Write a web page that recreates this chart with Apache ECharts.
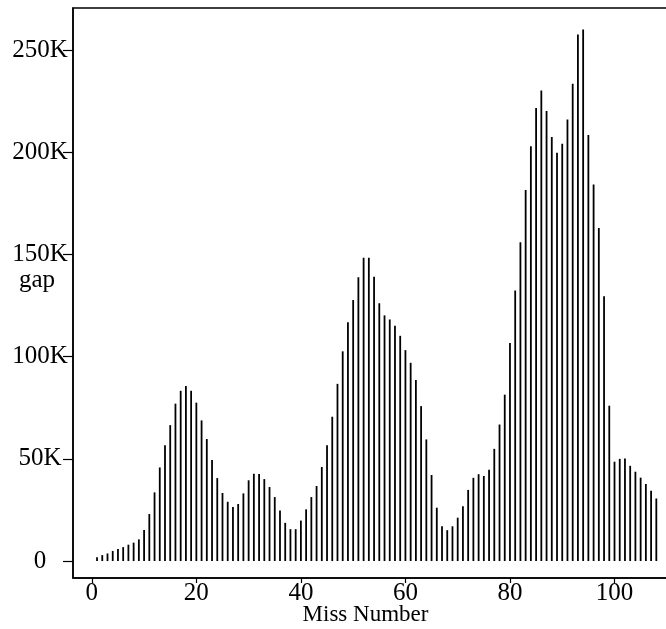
<!DOCTYPE html>
<html lang="en">
<head>
    <meta charset="UTF-8">
    <title>Miss Number gap</title>
    <style>
        html, body {
            margin: 0;
            padding: 0;
            background-color: #fff;
        }
        #chart-container {
            width: 666px;
            height: 629px;
        }
    </style>
    <script src="https://cdn.jsdelivr.net/npm/echarts@6.0.0/dist/echarts.min.js"></script>
</head>
<body>
    <div id="chart-container"></div>

    <script>
        // miss numbers 1..108
        const missNumbers = [];
        for (let i = 1; i <= 108; i++) missNumbers.push(i);

        // gap values, in thousands
        const gapK = [
            1.8, 2.9, 3.7, 4.9, 5.9, 6.8, 8.0, 9.0, 10.6, 15.2,
            23.0, 33.6, 45.8, 56.7, 66.5, 77.0, 83.3, 85.6, 83.3, 77.5,
            68.8, 59.7, 49.4, 40.6, 33.3, 29.0, 26.4, 27.9, 33.1, 39.5,
            42.7, 42.6, 40.1, 36.2, 31.3, 24.7, 18.7, 15.6, 15.6, 19.8,
            25.3, 31.3, 36.7, 46.0, 56.7, 70.6, 86.7, 102.6, 116.8, 127.7,
            138.9, 148.4, 148.4, 139.1, 126.1, 120.2, 118.2, 115.1, 110.2, 103.2,
            97.0, 88.6, 75.8, 59.5, 42.1, 26.1, 17.0, 15.1, 17.0, 21.2,
            26.8, 34.8, 40.7, 42.5, 41.6, 44.7, 54.9, 66.8, 81.4, 106.7,
            132.4, 156.0, 181.5, 203.0, 221.7, 230.2, 220.2, 207.5, 199.8, 204.2,
            216.0, 233.5, 257.6, 260.1, 208.4, 184.2, 163.0, 129.5, 76.0, 48.6,
            50.0, 50.2, 46.6, 43.7, 40.8, 37.7, 34.4, 30.6
        ];

        const xTicks = [0, 20, 40, 60, 80, 100];
        const yTicks = [0, 50000, 100000, 150000, 200000, 250000];
        const yTickLabels = ['0', '50K', '100K', '150K', '200K', '250K'];

        const font = "'Liberation Serif', 'DejaVu Serif', serif";

        const chart = echarts.init(document.getElementById('chart-container'));

        const option = {
            animation: false,
            backgroundColor: '#fff',
            textStyle: { fontFamily: font, color: '#000' },
            grid: {
                left: 73,
                top: 8,
                right: -6,
                bottom: 51,
                containLabel: false,
                outerBoundsMode: 'none',
                show: true,
                borderColor: '#000',
                borderWidth: 1.5
            },
            xAxis: {
                type: 'value',
                min: -3.6,
                max: 111,
                name: 'Miss Number',
                nameLocation: 'middle',
                nameGap: 25,
                nameMoveOverlap: false,
                nameTextStyle: { fontFamily: font, fontSize: 23, color: '#000', padding: [0, 14, 0, 0] },
                splitLine: { show: false },
                axisLine: { onZero: false, lineStyle: { color: '#000', width: 1.5 } },
                axisTick: { customValues: xTicks, length: 5, lineStyle: { color: '#000', width: 1.2 } },
                axisLabel: {
                    customValues: xTicks,
                    margin: 3,
                    fontFamily: font,
                    fontSize: 25,
                    color: '#000'
                }
            },
            yAxis: {
                type: 'value',
                min: -8300,
                max: 270600,
                name: 'gap',
                nameLocation: 'middle',
                nameRotate: 0,
                nameGap: 18,
                nameMoveOverlap: false,
                nameTextStyle: { fontFamily: font, fontSize: 25, color: '#000', verticalAlign: 'bottom' },
                splitLine: { show: false },
                axisLine: { onZero: false, lineStyle: { color: '#000', width: 1.5 } },
                axisTick: { customValues: yTicks, length: 10, lineStyle: { color: '#000', width: 1.2 } },
                axisLabel: {
                    customValues: yTicks,
                    margin: 33,
                    align: 'center',
                    fontFamily: font,
                    fontSize: 25,
                    color: '#000',
                    formatter: function (v) {
                        const i = yTicks.indexOf(v);
                        return i >= 0 ? yTickLabels[i] : '';
                    }
                }
            },
            series: [
                {
                    type: 'bar',
                    barWidth: 1.8,
                    itemStyle: { color: '#000' },
                    data: missNumbers.map((m, i) => [m, gapK[i] * 1000])
                }
            ]
        };

        chart.setOption(option);
    </script>
</body>
</html>
